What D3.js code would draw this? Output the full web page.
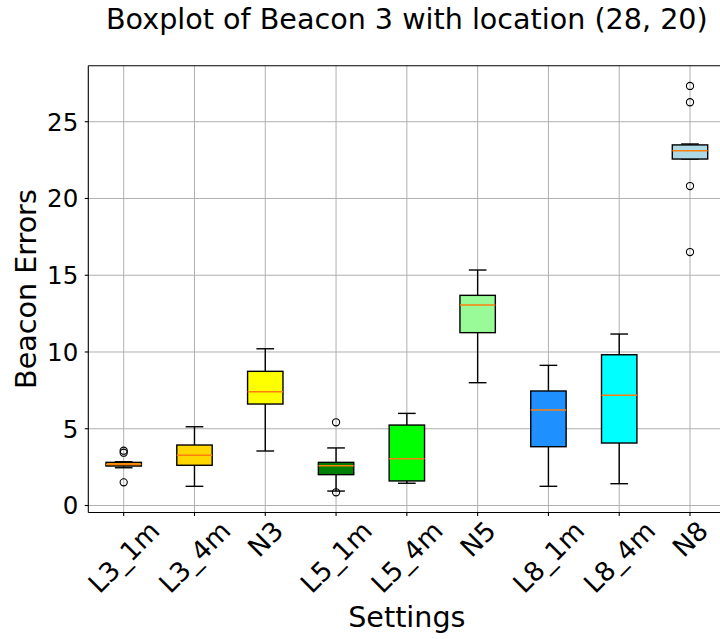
<!DOCTYPE html>
<html>
<head>
<meta charset="utf-8">
<script src="https://cdn.jsdelivr.net/npm/d3@7"></script>
<style>
  html, body { margin: 0; padding: 0; background: #fff; }
  svg { display: block; font-family: "DejaVu Sans", sans-serif; }
</style>
</head>
<body>
<svg id="chart" width="720" height="639"></svg>
<script>
// Beacon 3 error summaries per setting
const categories = ["L3_1m", "L3_4m", "N3", "L5_1m", "L5_4m", "N5", "L8_1m", "L8_4m", "N8"];
const whiskerLow  = [2.46, 1.25, 3.55, 0.94, 1.45, 8.00, 1.25, 1.42, 22.57];
const q1          = [2.57, 2.62, 6.61, 2.01, 1.60, 11.26, 3.83, 4.07, 22.57];
const median      = [2.68, 3.27, 7.41, 2.59, 3.05, 13.06, 6.22, 7.18, 23.11];
const q3          = [2.81, 3.94, 8.74, 2.81, 5.24, 13.69, 7.46, 9.82, 23.49];
const whiskerHigh = [2.85, 5.13, 10.21, 3.75, 6.00, 15.34, 9.13, 11.17, 23.55];
const outliers    = [[3.57, 3.44, 1.51], [], [], [5.42, 0.86], [], [], [], [], [27.33, 26.27, 20.81, 16.51]];
const boxColors   = ["orange", "gold", "yellow", "green", "lime", "palegreen", "dodgerblue", "cyan", "lightblue"];
const yTicks      = [0, 5, 10, 15, 20, 25];

const svg = d3.select("#chart");
const pLeft = 88.3, pRight = 725.4, pTop = 65.7, pBottom = 512.5;

const x = d3.scaleLinear().domain([0.5, categories.length + 0.5]).range([pLeft, pRight]);
const y = d3.scaleLinear().domain([-0.456, 28.65]).range([pBottom, pTop]);
const step = x(2) - x(1);
const boxW = step * 0.5, capW = step * 0.25;

// grid
const grid = svg.append("g").attr("stroke", "#b0b0b0").attr("stroke-width", 1);
yTicks.forEach(t => grid.append("line")
  .attr("x1", pLeft).attr("x2", pRight).attr("y1", y(t)).attr("y2", y(t)));
categories.forEach((c, i) => grid.append("line")
  .attr("x1", x(i + 1)).attr("x2", x(i + 1)).attr("y1", pTop).attr("y2", pBottom));

// boxes
const lw = 1.4;
const g = svg.append("g");
categories.forEach((c, i) => {
  const cx = x(i + 1);
  const b = g.append("g");
  // whiskers
  b.append("line").attr("x1", cx).attr("x2", cx).attr("y1", y(q1[i])).attr("y2", y(whiskerLow[i]))
    .attr("stroke", "#000").attr("stroke-width", lw);
  b.append("line").attr("x1", cx).attr("x2", cx).attr("y1", y(q3[i])).attr("y2", y(whiskerHigh[i]))
    .attr("stroke", "#000").attr("stroke-width", lw);
  [whiskerLow[i], whiskerHigh[i]].forEach(v => b.append("line")
    .attr("x1", cx - capW / 2).attr("x2", cx + capW / 2).attr("y1", y(v)).attr("y2", y(v))
    .attr("stroke", "#000").attr("stroke-width", lw));
  // box
  b.append("rect").attr("x", cx - boxW / 2).attr("width", boxW)
    .attr("y", y(q3[i])).attr("height", Math.max(0.5, y(q1[i]) - y(q3[i])))
    .attr("fill", boxColors[i]).attr("stroke", "#000").attr("stroke-width", lw);
  // median
  b.append("line").attr("x1", cx - boxW / 2).attr("x2", cx + boxW / 2)
    .attr("y1", y(median[i])).attr("y2", y(median[i]))
    .attr("stroke", "#ff7f0e").attr("stroke-width", lw);
  // fliers
  outliers[i].forEach(v => b.append("circle").attr("cx", cx).attr("cy", y(v)).attr("r", 3.6)
    .attr("fill", "none").attr("stroke", "#000").attr("stroke-width", 1.1));
});

// spines
const sp = svg.append("g").attr("stroke", "#000").attr("stroke-width", 1.1).attr("fill", "none");
sp.append("line").attr("x1", pLeft).attr("x2", pLeft).attr("y1", pTop).attr("y2", pBottom);
sp.append("line").attr("x1", pLeft).attr("x2", pRight).attr("y1", pBottom).attr("y2", pBottom);
sp.append("line").attr("x1", pLeft).attr("x2", pRight).attr("y1", pTop).attr("y2", pTop);

// y axis ticks & labels
const yTickFont = 24.5;
yTicks.forEach(t => {
  svg.append("line").attr("x1", pLeft - 3.5).attr("x2", pLeft).attr("y1", y(t)).attr("y2", y(t))
    .attr("stroke", "#000").attr("stroke-width", 1.1);
  svg.append("text").attr("x", pLeft - 10).attr("y", y(t)).attr("dy", "0.36em")
    .attr("text-anchor", "end").attr("font-size", yTickFont).attr("fill", "#000").text(t);
});

// x axis ticks & rotated labels
const xTickFont = 26.5;
categories.forEach((c, i) => {
  const cx = x(i + 1);
  svg.append("line").attr("x1", cx).attr("x2", cx).attr("y1", pBottom).attr("y2", pBottom + 3.5)
    .attr("stroke", "#000").attr("stroke-width", 1.1);
  const t = svg.append("text").attr("font-size", xTickFont).attr("fill", "#000")
    .attr("text-anchor", "middle").attr("dominant-baseline", "central").text(c);
  const w = t.node().getComputedTextLength();
  const h = xTickFont * 1.0;
  const cy = pBottom + 4 + (w + h) * Math.SQRT1_2 / 2;
  t.attr("transform", `translate(${cx},${cy}) rotate(-45)`);
});

// axis titles
const labelFont = 28.6;
svg.append("text").attr("x", (pLeft + pRight) / 2).attr("y", 627)
  .attr("text-anchor", "middle").attr("font-size", labelFont).attr("fill", "#000").text("Settings");
svg.append("text").attr("transform", `translate(36,${(pTop + pBottom) / 2}) rotate(-90)`)
  .attr("text-anchor", "middle").attr("font-size", labelFont).attr("fill", "#000").text("Beacon Errors");

// title
svg.append("text").attr("x", (pLeft + pRight) / 2).attr("y", 29)
  .attr("text-anchor", "middle").attr("font-size", labelFont).attr("fill", "#000")
  .text("Boxplot of Beacon 3 with location (28, 20)");
</script>
</body>
</html>
